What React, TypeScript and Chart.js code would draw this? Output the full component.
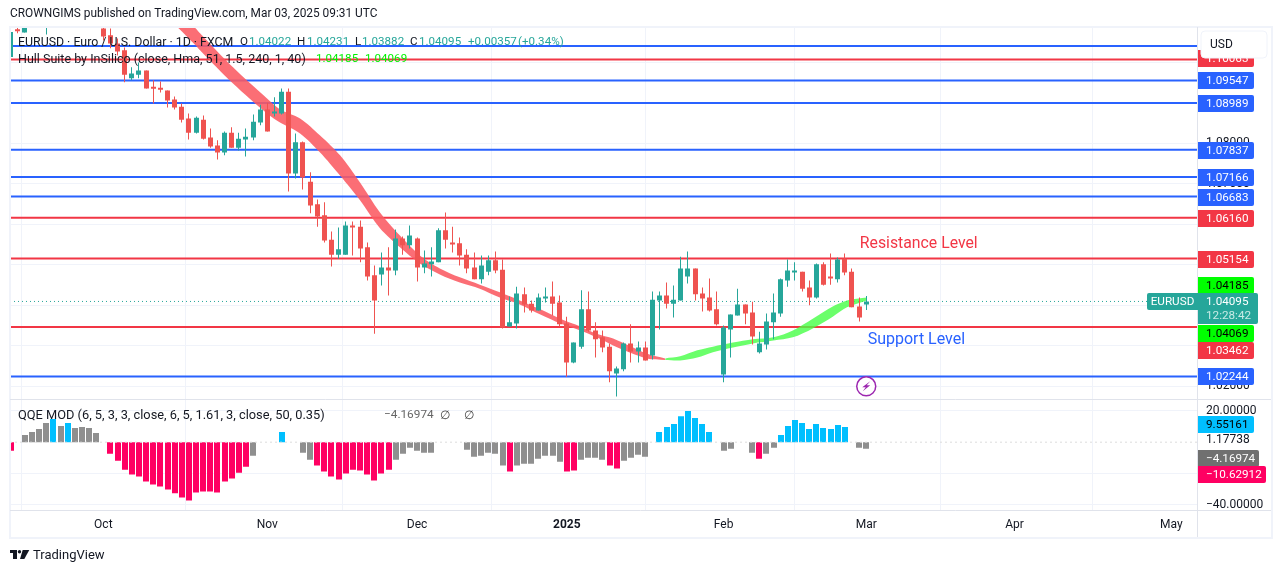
import React, { useEffect, useRef } from "react";
import { Chart, registerables } from "chart.js";

Chart.register(...registerables);

const FONT = "Roboto, sans-serif";
const INK = "#131722";
const UP = "#26a69a";
const DOWN = "#ef5350";
const BLUE = "#2962ff";
const RED = "#f23645";

const candleIndex = [-12,-11,-8,-6,0,1,2,3,4,5,6,7,8,9,10,11,12,13,14,15,16,17,18,19,20,21,22,23,24,25,26,27,28,29,30,31,32,33,34,35,36,37,38,39,40,41,42,43,44,45,46,47,48,49,50,51,52,53,54,55,56,57,58,59,60,61,62,63,64,65,66,67,68,69,70,71,72,73,74,75,76,77,78,79,80,81,82,83,84,85,86,87,88,89,90,91,92,93,94,95,96,97,98,99,100,101,102,103,104,105,106,107];
const openPrices = [1.1078,1.1073,1.1090,1.1095,1.1083,1.1066,1.1046,1.1029,1.0960,1.0969,1.0979,1.0936,1.0935,1.0930,1.0908,1.0890,1.0861,1.0826,1.0858,1.0814,1.0794,1.0777,1.0826,1.0789,1.0809,1.0814,1.0851,1.0883,1.0873,1.0873,1.0927,1.0725,1.0802,1.0705,1.0649,1.0622,1.0562,1.0525,1.0525,1.0597,1.0594,1.0543,1.0474,1.0476,1.0493,1.0486,1.0565,1.0548,1.0565,1.0493,1.0501,1.0506,1.0585,1.0553,1.0553,1.0525,1.0493,1.0464,1.0483,1.0511,1.0488,1.0348,1.0355,1.0427,1.0404,1.0387,1.0417,1.0422,1.0407,1.0355,1.0259,1.0298,1.0390,1.0338,1.0321,1.0298,1.0232,1.0242,1.0306,1.0286,1.0296,1.0276,1.0412,1.0424,1.0404,1.0412,1.0471,1.0491,1.0429,1.0419,1.0390,1.0229,1.0340,1.0375,1.0402,1.0382,1.0284,1.0303,1.0358,1.0380,1.0461,1.0481,1.0483,1.0444,1.0419,1.0501,1.0469,1.0464,1.0515,1.0483,1.0397,1.04022];
const highPrices = [1.1085,1.1090,1.1100,1.1100,1.1087,1.1083,1.1058,1.1036,1.0987,1.0999,1.0979,1.0955,1.0952,1.0930,1.0915,1.0898,1.0873,1.0866,1.0868,1.0836,1.0807,1.0829,1.0839,1.0826,1.0836,1.0871,1.0895,1.0900,1.0913,1.0935,1.0935,1.0824,1.0804,1.0728,1.0661,1.0654,1.0582,1.0592,1.0607,1.0607,1.0609,1.0555,1.0498,1.0530,1.0543,1.0587,1.0570,1.0597,1.0567,1.0535,1.0543,1.0590,1.0629,1.0594,1.0567,1.0538,1.0530,1.0523,1.0523,1.0533,1.0513,1.0422,1.0446,1.0444,1.0412,1.0429,1.0444,1.0459,1.0424,1.0372,1.0308,1.0437,1.0434,1.0358,1.0338,1.0306,1.0249,1.0308,1.0353,1.0311,1.0311,1.0434,1.0434,1.0456,1.0449,1.0520,1.0533,1.0491,1.0444,1.0466,1.0434,1.0350,1.0377,1.0441,1.0402,1.0409,1.0335,1.0380,1.0429,1.0466,1.0513,1.0506,1.0483,1.0461,1.0503,1.0506,1.0528,1.0518,1.0528,1.0491,1.0419,1.04231];
const lowPrices = [1.1071,1.1073,1.1068,1.1086,1.1053,1.1034,1.1016,1.0950,1.0955,1.0960,1.0935,1.0898,1.0925,1.0888,1.0883,1.0851,1.0809,1.0824,1.0809,1.0789,1.0760,1.0770,1.0789,1.0782,1.0767,1.0807,1.0844,1.0829,1.0866,1.0871,1.0681,1.0713,1.0686,1.0627,1.0594,1.0555,1.0496,1.0515,1.0525,1.0523,1.0506,1.0461,1.0330,1.0449,1.0424,1.0474,1.0525,1.0540,1.0459,1.0479,1.0471,1.0506,1.0540,1.0530,1.0498,1.0479,1.0464,1.0454,1.0474,1.0479,1.0343,1.0348,1.0343,1.0382,1.0382,1.0387,1.0407,1.0375,1.0348,1.0224,1.0257,1.0293,1.0335,1.0271,1.0284,1.0210,1.0175,1.0237,1.0259,1.0259,1.0264,1.0266,1.0340,1.0392,1.0370,1.0412,1.0454,1.0412,1.0385,1.0385,1.0350,1.0210,1.0271,1.0375,1.0353,1.0303,1.0281,1.0291,1.0316,1.0372,1.0446,1.0461,1.0434,1.0400,1.0417,1.0449,1.0451,1.0456,1.0474,1.0395,1.0360,1.03882];
const closePrices = [1.1076,1.1088,1.1095,1.1090,1.1063,1.1046,1.1026,1.0969,1.0972,1.0979,1.0935,1.0934,1.0932,1.0905,1.0888,1.0858,1.0826,1.0863,1.0811,1.0792,1.0777,1.0826,1.0789,1.0811,1.0816,1.0853,1.0883,1.0829,1.0876,1.0927,1.0725,1.0802,1.0715,1.0646,1.0619,1.0560,1.0525,1.0538,1.0597,1.0592,1.0540,1.0471,1.0412,1.0493,1.0486,1.0565,1.0548,1.0572,1.0493,1.0503,1.0508,1.0585,1.0562,1.0550,1.0523,1.0491,1.0464,1.0498,1.0511,1.0486,1.0345,1.0358,1.0429,1.0402,1.0387,1.0419,1.0419,1.0404,1.0353,1.0259,1.0308,1.0390,1.0338,1.0316,1.0296,1.0237,1.0244,1.0306,1.0286,1.0296,1.0264,1.0414,1.0424,1.0404,1.0414,1.0491,1.0491,1.0427,1.0417,1.0387,1.0353,1.0345,1.0377,1.0402,1.0380,1.0323,1.0306,1.0360,1.0382,1.0464,1.0486,1.0483,1.0441,1.0419,1.0501,1.0451,1.0466,1.0513,1.0481,1.0395,1.0370,1.04095];

const hullFallIndex = [9.35,10.48,12.86,13.56,18.19,22.96,24.78,27.59,30.4,33.2,36.0,38.8,41.6,44.4,47.2,50.0,52.8,55.6,58.4,61.3,64.1,66.9,69.2,71.5,76.2,78.8];
const hullFallUpper = [1.1140,1.1120,1.1085,1.1071,1.0987,1.0910,1.0883,1.0861,1.0819,1.0770,1.0703,1.0629,1.0572,1.0523,1.0491,1.0469,1.0451,1.0432,1.0412,1.0390,1.0367,1.0348,1.0330,1.0318,1.0281,1.0269];
const hullFallLower = [1.1103,1.1085,1.1043,1.1029,1.0947,1.0873,1.0851,1.0824,1.0777,1.0720,1.0659,1.0590,1.0543,1.0503,1.0476,1.0456,1.0441,1.0419,1.0402,1.0377,1.0355,1.0338,1.0321,1.0301,1.0269,1.0265];
const hullRiseIndex = [78.8,80.9,83.3,85.5,88.3,91.1,94.0,96.7,99.5,102.3,104.3,107.1];
const hullRiseUpper = [1.0269,1.0274,1.0289,1.0298,1.0308,1.0316,1.0321,1.0338,1.0367,1.0397,1.0412,1.0419];
const hullRiseLower = [1.0265,1.0264,1.0271,1.0284,1.0296,1.0306,1.0313,1.0321,1.0343,1.0372,1.0395,1.0412];

const blueLevels = [1.10398,1.09547,1.08989,1.07837,1.07166,1.06683,1.02244];
const redLevels = [1.10063,1.0616,1.05154,1.03462];
const lastPrice = 1.04095;

const qqeIndex = [-13,-11,-10,-9,-8,-7,-6,-5,-4,-3,-2,-1,1,2,3,4,5,6,7,8,9,10,11,12,13,14,15,16,17,18,19,20,21,25,28,29,30,31,32,33,34,35,36,37,38,39,40,41,42,43,44,45,46,51,52,53,54,55,56,57,58,59,60,61,62,63,64,65,66,67,68,69,70,71,72,73,74,75,76,78,79,80,81,82,83,84,85,87,88,91,92,93,94,95,96,97,98,99,100,101,102,103,104,106,107];
const qqeValues = [-5.5,4.6,6.5,8.4,12.2,14.7,10.3,12.2,9,9.7,9,5.9,-7.4,-11.8,-17.5,-20.6,-21.9,-25.1,-26.9,-28.2,-30.1,-32.6,-35.2,-37.1,-32,-31.4,-31.4,-32,-25.1,-23.2,-19.4,-15.6,-8.6,6.5,-6.7,-11.2,-14.9,-18.7,-21.9,-23.8,-20,-17.5,-18.1,-20.6,-24.4,-20,-17.5,-11.2,-7.4,-3.6,-5.5,-6.7,-6.7,-4.8,-9.3,-8.6,-6.7,-7.4,-14.9,-18.7,-14.9,-13.7,-13.7,-10.5,-8.6,-8.6,-12.4,-18.7,-18.1,-11.2,-9.9,-9.9,-11.2,-14.9,-16.8,-11.8,-9.9,-8,-9.3,6.5,9.7,11.6,16.6,19.8,15.4,11.6,6.5,-5.5,-4.2,-6.7,-10.5,-7.4,-3.6,4.6,10.3,14.1,12.2,8.4,11.6,9,8.4,10.9,9.7,-3.6,-4.17];
const qqeStates = ["p","g","g","g","g","b","g","b","g","g","g","g","p","p","p","p","p","p","p","p","p","p","p","p","p","p","p","p","p","p","p","p","g","b","g","g","p","p","p","p","p","p","p","p","p","p","p","g","g","g","g","g","g","g","g","g","g","g","g","p","g","g","g","g","g","g","g","p","p","g","g","g","g","p","p","g","g","g","g","b","b","b","b","b","b","b","b","g","g","g","p","g","g","b","b","b","b","b","b","b","b","b","b","g","g"];

const monthIndex = [0,23,44,65,87,107,127.8,149.8];
const monthLabels = ["Oct","Nov","Dec","2025","Feb","Mar","Apr","May"];
const priceTicks = [1.1,1.09,1.08,1.07,1.06,1.05,1.04,1.03,1.02];
const qqeTicks = [20,1.17738,-20,-40];

const priceTagValues = ["1.10063","1.09547","1.08989","1.07837","1.07166","1.06683","1.06160","1.05154","1.04185","1.04069","1.03462","1.02244"];
const priceTagCentres = [1.1011,1.09547,1.08989,1.07837,1.07166,1.06683,1.0616,1.05154,1.0450,1.0332,1.0290,1.02244];
const priceTagFills = [RED,BLUE,BLUE,BLUE,BLUE,BLUE,RED,RED,"#00ff00","#00ff00",RED,BLUE];
const priceTagInks = ["#fff","#fff","#fff","#fff","#fff","#fff","#fff","#fff","#000","#000","#fff","#fff"];
const qqeTagValues = ["9.55161","\u22124.16974","\u221210.62912"];
const qqeTagCentres = [11.7,-9.8,-20.5];
const qqeTagFills = ["#00bfff","#707070","#ff0062"];
const qqeTagInks = ["#000","#fff","#fff"];
const qqeTagWidths = [56,61,68];

const X_MIN = -13.09;
const X_MAX = 153.53;

const rows = {
  header: "CROWNGIMS published on TradingView.com, Mar 03, 2025 09:31 UTC",
  symbol: "EURUSD \u00b7 Euro / U.S. Dollar \u00b7 1D \u00b7 FXCM",
  hull: "Hull Suite by InSilico (close, Hma, 51, 1.5, 240, 1, 40)",
  qqe: "QQE MOD (6, 5, 3, 3, close, 6, 5, 1.61, 3, close, 50, 0.35)",
};

function segmentPlugin() {
  return {
    id: "snapBars",
    afterDatasetsUpdate(chart: any) {
      chart.data.datasets.forEach((ds: any, i: number) => {
        if (ds.type !== "bar") return;
        const odd = ds.snapHalf;
        chart.getDatasetMeta(i).data.forEach((el: any) => {
          el.x = odd ? Math.floor(el.x) + 0.5 : Math.round(el.x);
        });
      });
    },
  };
}

function overlayPlugin() {
  return {
    id: "overlay",
    afterDraw(chart: any) {
      const c = chart.ctx as CanvasRenderingContext2D;
      const yp = chart.scales.y;
      const yq = chart.scales.yq;
      const xs = chart.scales.x;
      const text = (s: string, x: number, y: number, col = INK, size = 12, align: CanvasTextAlign = "left") => {
        c.font = `${size}px ${FONT}`;
        c.fillStyle = col;
        c.textAlign = align;
        c.textBaseline = "middle";
        c.fillText(s, x, y);
      };
      const pill = (x: number, y: number, w: number, h: number, r: number[], fill: string) => {
        c.beginPath();
        (c as any).roundRect(x, y, w, h, r);
        c.fillStyle = fill;
        c.fill();
      };
      c.save();
      // frame and separators
      c.strokeStyle = "#f0f3fa";
      c.lineWidth = 2;
      c.strokeRect(10, 27, 1262, 511);
      c.strokeStyle = "#e0e3eb";
      c.lineWidth = 1;
      c.beginPath();
      c.moveTo(10, 399.5); c.lineTo(1271, 399.5);
      c.moveTo(10, 510.5); c.lineTo(1271, 510.5);
      c.moveTo(1197.5, 27); c.lineTo(1197.5, 537);
      c.stroke();

      // header and legend
      text(rows.header, 10, 14.5, INK, 11.87);
      text(rows.symbol, 18, 42.5, INK, 12.35);
      const legendValues: [string, number, string][] = [
        ["O", 240, INK], ["1.04022", 249, UP], ["H", 297, INK], ["1.04231", 307, UP],
        ["L", 355, INK], ["1.03882", 362, UP], ["C", 410, INK], ["1.04095", 419, UP],
        ["+0.00357", 468, UP], ["(+0.34%)", 518, UP],
      ];
      legendValues.forEach(([s, x, col]) => text(s, x, 42.5, col, 11.6));
      c.fillStyle = UP;
      c.fillRect(11, 32, 2, 25);
      text(rows.hull, 18, 59.5, INK, 12.5);
      text("1.04185", 316, 59.5, "#00f000", 11.6);
      text("1.04069", 365, 59.5, "#00f000", 11.6);
      text(rows.qqe, 18, 415.5, INK, 12.8);
      text("\u22124.16974", 384, 415.5, "#666", 11.8);
      text("\u2205", 440, 415.5, "#444");
      text("\u2205", 464, 415.5, "#444");

      // annotations
      text("Resistance Level", xs.getPixelForValue(106.1), yp.getPixelForValue(1.0551), RED, 15.8);
      text("Support Level", xs.getPixelForValue(107.2), yp.getPixelForValue(1.0315), BLUE, 16);

      // bolt marker
      const bx = xs.getPixelForValue(107);
      const by = yp.getPixelForValue(1.02);
      c.beginPath();
      c.arc(bx, by, 9.5, 0, Math.PI * 2);
      c.fillStyle = "#fff";
      c.fill();
      c.strokeStyle = "#9c27b0";
      c.lineWidth = 1.5;
      c.stroke();
      c.beginPath();
      c.moveTo(bx + 4, by - 5); c.lineTo(bx - 4, by + 1); c.lineTo(bx - 0.5, by + 1);
      c.lineTo(bx - 3.5, by + 5); c.lineTo(bx + 4, by - 1); c.lineTo(bx + 0.5, by - 1);
      c.closePath();
      c.fillStyle = "#9c27b0";
      c.fill();

      // price tags
      priceTagValues.forEach((label, i) => {
        const y = Math.round(yp.getPixelForValue(priceTagCentres[i]));
        pill(1198, y - 8, 56, 17, [0, 2, 2, 0], priceTagFills[i]);
        text(label, 1206, y + 1, priceTagInks[i], 11.7);
      });
      pill(1147, 293, 51, 17, [2, 0, 0, 2], UP);
      text("EURUSD", 1172.5, 302, "#fff", 11.7, "center");
      pill(1198, 293, 60, 31, [0, 2, 2, 0], UP);
      text("1.04095", 1206, 302, "#fff", 11.7);
      text("12:28:42", 1206, 316, "#c8ebe6", 11.7);
      qqeTagValues.forEach((label, i) => {
        const y = Math.round(yq.getPixelForValue(qqeTagCentres[i]));
        pill(1198, y - 8, qqeTagWidths[i], 17, [0, 2, 2, 0], qqeTagFills[i]);
        text(label, 1206, y + 1, qqeTagInks[i], 11.7);
      });

      // currency box
      c.beginPath();
      (c as any).roundRect(1201, 31, 66, 27, 4);
      c.fillStyle = "#fff";
      c.fill();
      c.strokeStyle = "#f0f3fa";
      c.lineWidth = 1;
      c.stroke();
      text("USD", 1210, 44.5, INK, 12);

      // brand
      c.fillStyle = "#131722";
      c.fillRect(10, 550, 7, 3);
      c.fillRect(13, 550, 4, 9);
      c.beginPath();
      c.arc(19.5, 551.7, 1.7, 0, Math.PI * 2);
      c.fill();
      c.beginPath();
      c.moveTo(22.7, 550); c.lineTo(29.3, 550); c.lineTo(24.3, 559); c.lineTo(20, 559);
      c.closePath();
      c.fill();
      text("TradingView", 33, 555.5, INK, 13);
      c.restore();
    },
  };
}

export default function App() {
  const ref = useRef<HTMLCanvasElement | null>(null);
  useEffect(() => {
    const canvas = ref.current;
    if (!canvas) return;
    const levelSet = (levels: number[], color: string) =>
      levels.map((lvl) => ({
        type: "line",
        data: [{ x: X_MIN, y: lvl }, { x: X_MAX, y: lvl }],
        borderColor: color,
        borderWidth: 2,
        pointRadius: 0,
        order: 8,
      }));
    const hull = (idx: number[], vals: number[], fill: any, color: string) => ({
      type: "line",
      data: idx.map((x, i) => ({ x, y: vals[i] })),
      borderWidth: 0,
      borderColor: "transparent",
      backgroundColor: color,
      pointRadius: 0,
      tension: 0.3,
      fill,
      order: 6,
    });
    const candleColors = candleIndex.map((_, i) => (closePrices[i] >= openPrices[i] ? UP : DOWN));
    const qqeColors = qqeStates.map((s) => (s === "p" ? "#ff0062" : s === "b" ? "#00bfff" : "#8f8f8f"));
    const chart = new Chart(canvas, {
      type: "bar",
      data: {
        datasets: [
          ...levelSet(blueLevels, BLUE),
          ...levelSet(redLevels, RED),
          {
            type: "line",
            data: [{ x: X_MIN, y: lastPrice }, { x: X_MAX, y: lastPrice }],
            borderColor: UP,
            borderWidth: 1,
            borderDash: [1, 3],
            pointRadius: 0,
            order: 7,
          },
          hull(hullFallIndex, hullFallUpper, "+1", "rgba(250,90,98,0.88)"),
          hull(hullFallIndex, hullFallLower, false, "rgba(250,90,98,0.88)"),
          hull(hullRiseIndex, hullRiseUpper, "+1", "rgba(70,255,70,0.8)"),
          hull(hullRiseIndex, hullRiseLower, false, "rgba(70,255,70,0.8)"),
          {
            type: "bar",
            data: candleIndex.map((x, i) => ({ x, y: [lowPrices[i], highPrices[i]] })),
            backgroundColor: candleColors,
            barThickness: 1,
            grouped: false,
            snapHalf: true,
            inflateAmount: 0,
            order: 4,
          },
          {
            type: "bar",
            data: candleIndex.map((x, i) => ({ x, y: [openPrices[i], closePrices[i]] })),
            backgroundColor: candleColors,
            barThickness: 5,
            grouped: false,
            snapHalf: true,
            inflateAmount: 0,
            minBarLength: 2,
            order: 3,
          },
          {
            type: "bar",
            yAxisID: "yq",
            data: qqeIndex.map((x, i) => ({ x, y: qqeValues[i] })),
            backgroundColor: qqeColors,
            barThickness: 6,
            grouped: false,
            snapHalf: false,
            inflateAmount: 0,
            order: 3,
          },
          {
            type: "line",
            yAxisID: "yq",
            data: [{ x: X_MIN, y: 0 }, { x: X_MAX, y: 0 }],
            borderColor: "#dcdcdc",
            borderWidth: 1,
            borderDash: [2, 3],
            pointRadius: 0,
            order: 1,
          },
        ] as any,
      },
      plugins: [segmentPlugin(), overlayPlugin()],
      options: {
        animation: false,
        responsive: false,
        maintainAspectRatio: false,
        layout: { padding: { left: 10, right: 10, top: 27, bottom: 36 } },
        plugins: { legend: { display: false }, tooltip: { enabled: false } },
        events: [],
        scales: {
          x: {
            type: "linear",
            offset: false,
            min: X_MIN,
            max: X_MAX,
            afterBuildTicks: (s: any) => { s.ticks = monthIndex.map((value) => ({ value })); },
            afterFit: (s: any) => { s.height = 27; },
            ticks: {
              autoSkip: false,
              maxRotation: 0,
              padding: 8,
              color: INK,
              font: (ctx: any) => ({ family: FONT, size: 12, weight: ctx.tick && ctx.tick.label === "2025" ? "bold" : "normal" }),
              callback: (v: any) => monthLabels[monthIndex.indexOf(Number(v))] ?? "",
            },
            grid: { color: "#f0f3fa", drawTicks: false },
            border: { display: false },
          },
          y: {
            type: "linear",
            position: "right",
            stack: "panes",
            stackWeight: 372.5,
            min: 1.01676,
            max: 1.10866,
            afterBuildTicks: (s: any) => { s.ticks = priceTicks.map((value) => ({ value })); },
            afterFit: (s: any) => { s.width = 73; },
            ticks: {
              autoSkip: false,
              padding: 8,
              color: INK,
              font: { family: FONT, size: 12 },
              callback: (v: any) => Number(v).toFixed(5),
            },
            grid: { color: "#f0f3fa", drawTicks: false },
            border: { display: false },
          },
          yq: {
            type: "linear",
            position: "right",
            stack: "panes",
            stackWeight: 110.5,
            min: -43.2,
            max: 27.2,
            afterBuildTicks: (s: any) => { s.ticks = qqeTicks.map((value) => ({ value })); },
            afterFit: (s: any) => { s.width = 73; },
            ticks: {
              autoSkip: false,
              padding: 8,
              color: INK,
              font: { family: FONT, size: 12 },
              callback: (v: any) => (Number(v) === -20 ? "" : Number(v).toFixed(5).replace("-", "\u2212")),
            },
            grid: {
              color: (ctx: any) => (ctx.tick && ctx.tick.value === 1.17738 ? "transparent" : "#f0f3fa"),
              drawTicks: false,
            },
            border: { display: false },
          },
        },
      } as any,
    });
    return () => chart.destroy();
  }, []);
  return (
    <canvas
      ref={ref}
      width={1281}
      height={573}
      style={{ position: "absolute", left: 0, top: 0, display: "block" }}
    />
  );
}
